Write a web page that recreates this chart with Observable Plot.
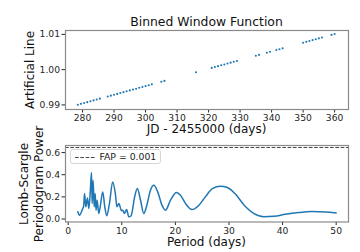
<!DOCTYPE html>
<html>
<head>
<meta charset="utf-8">
<script src="https://cdn.jsdelivr.net/npm/d3@7"></script>
<script src="https://cdn.jsdelivr.net/npm/@observablehq/plot@0.6"></script>
<style>
  html, body { margin: 0; padding: 0; background: #fff; }
  #wrap { position: relative; width: 360px; height: 252px; overflow: hidden; font-family: "DejaVu Sans", sans-serif; color: #111; }
  #wrap > svg { position: absolute; left: 0; }
  .lbl { position: absolute; font-size: 12px; line-height: 14px; white-space: nowrap; }
  .rot { position: absolute; font-size: 12px; line-height: 14.5px; white-space: nowrap; text-align: center; transform: translate(-50%, -50%) rotate(-90deg); }
  #legend { position: absolute; left: 69.5px; top: 148.5px; width: 91px; height: 15px; border: 1px solid #d6d6d6; border-radius: 3px; background: rgba(255,255,255,0.85); box-sizing: border-box; }
  #legend svg { position: absolute; left: 4px; top: 6px; }
  #legend span { position: absolute; left: 29px; top: 1px; font-size: 9.3px; line-height: 11px; color: #222; }
</style>
</head>
<body>
<div id="wrap"></div>
<script>
// ---- Top panel: binned window function (artificial line) ----
const jd = [278.5, 279.5, 280.5, 281.5, 282.5, 283.5, 284.5, 285.5,
  288, 289, 290, 291, 292, 293, 294, 295, 296, 297, 298, 299, 300, 301, 302,
  305, 306,
  316,
  321, 322, 323, 324, 325, 326, 327, 328, 329,
  335, 336, 338.5, 339.5, 341.5, 342.5, 343.5,
  350, 351, 352, 353, 354, 355, 356,
  359, 360];
const artificial = [0.99005, 0.99030, 0.99054, 0.99079, 0.99103, 0.99128, 0.99153, 0.99177,
  0.99239, 0.99263, 0.99288, 0.99312, 0.99337, 0.99362, 0.99386, 0.99411, 0.99435, 0.99460, 0.99485, 0.99509, 0.99534, 0.99558, 0.99583,
  0.99657, 0.99681,
  0.99927,
  1.00050, 1.00075, 1.00099, 1.00124, 1.00148, 1.00173, 1.00198, 1.00222, 1.00247,
  1.00395, 1.00419, 1.00481, 1.00506, 1.00555, 1.00579, 1.00604,
  1.00764, 1.00788, 1.00813, 1.00838, 1.00862, 1.00887, 1.00911,
  1.00985, 1.01010];
const topXTicks = [280, 290, 300, 310, 320, 330, 340, 350, 360];
const topYTicks = [0.99, 1.00, 1.01];

// ---- Bottom panel: Lomb-Scargle periodogram ----
const period = [1.8, 2.1, 2.6, 2.9, 3.05, 3.3, 3.6, 3.85, 4.1, 4.35, 4.47, 4.66, 4.85, 5.03, 5.2, 5.4, 5.7, 5.97,
  6.45, 6.83, 7.2, 7.7, 8.3, 8.8, 9.1, 9.45, 9.95, 10.2, 10.5, 10.9, 11.3, 11.75, 12.4, 12.9, 13.5, 14.1, 14.6,
  15.35, 16.0, 16.7, 17.5, 18.15, 19.1, 20.2, 20.95, 21.9, 23.1, 24.4, 25.6, 26.9, 28.4, 29.7, 31.1, 33.1,
  34.6, 36.5, 38.4, 40.5, 43.0, 45.5, 48.0, 50.0];
const power = [0.065, 0.035, 0.08, 0.12, 0.23, 0.11, 0.19, 0.095, 0.23, 0.42, 0.14, 0.35, 0.11, 0.23, 0.08, 0.17, 0.05, 0.11,
  0.245, 0.11, 0.03, 0.14, 0.335, 0.23, 0.11, 0.14, 0.075, 0.08, 0.05, 0.085, 0.02, 0.03, 0.2, 0.275, 0.17, 0.05, 0.11,
  0.26, 0.305, 0.245, 0.125, 0.08, 0.17, 0.24, 0.215, 0.14, 0.085, 0.125, 0.2, 0.275, 0.296, 0.284, 0.23, 0.11,
  0.05, 0.02, 0.024, 0.042, 0.058, 0.067, 0.063, 0.055];
const fap = [0.646];
const botXTicks = [0, 10, 20, 30, 40, 50];
const botYTicks = [0.0, 0.2, 0.4, 0.6];

const blue = "#1f77b4";
const axisStyle = { fontFamily: "DejaVu Sans", fontSize: "9.2px", color: "#262626", background: "transparent", overflow: "visible" };

const topData = jd.map((x, i) => ({ x, y: artificial[i] }));
const topChart = Plot.plot({
  width: 360, height: 130,
  marginLeft: 65, marginRight: 12, marginTop: 30, marginBottom: 21,
  style: axisStyle,
  x: { domain: [274.6, 364.4], ticks: topXTicks, tickFormat: d3.format("d"), tickSize: 3.5, tickPadding: 1.5, label: null },
  y: { domain: [0.9887, 1.0111], ticks: topYTicks, tickFormat: d3.format(".2f"), tickSize: 3.5, tickPadding: 2, label: null },
  marks: [
    Plot.dot(topData, { x: "x", y: "y", r: 1.05, fill: blue, stroke: null }),
    Plot.frame({ stroke: "#8a8a8a", strokeWidth: 1.2 }),
  ]
});
topChart.style.top = "0px";

const botData = period.map((p, i) => ({ p, v: power[i] }));
const botChart = Plot.plot({
  width: 360, height: 122,
  marginLeft: 65, marginRight: 12, marginTop: 15, marginBottom: 30.5,
  style: axisStyle,
  x: { domain: [-0.5, 52.3], ticks: botXTicks, tickFormat: d3.format("d"), tickSize: 3.5, tickPadding: 1.5, label: null },
  y: { domain: [-0.027, 0.664], ticks: botYTicks, tickFormat: d3.format(".1f"), tickSize: 3.5, tickPadding: 2, label: null },
  marks: [
    Plot.line(botData, { x: "p", y: "v", stroke: blue, strokeWidth: 1.5, curve: "monotone-x" }),
    Plot.ruleY(fap, { stroke: "#333", strokeWidth: 0.9, strokeDasharray: "3.7,1.6" }),
    Plot.frame({ stroke: "#8a8a8a", strokeWidth: 1.2 }),
  ]
});
botChart.style.top = "130px";

const wrap = document.getElementById("wrap");
wrap.appendChild(topChart);
wrap.appendChild(botChart);

function addLabel(text, left, topPx, cls) {
  const d = document.createElement("div");
  d.className = cls;
  d.innerHTML = text;
  d.style.left = left + "px";
  d.style.top = topPx + "px";
  wrap.appendChild(d);
  return d;
}
// Title and x labels (centered on the frame center x = 206.5)
const t = addLabel("Binned Window Function", 0, 15, "lbl");
t.style.width = "413px"; t.style.textAlign = "center"; t.style.fontSize = "12.4px";
const xl1 = addLabel("JD - 2455000 (days)", 0, 121.6, "lbl");
xl1.style.width = "413px"; xl1.style.textAlign = "center";
const xl2 = addLabel("Period (days)", 0, 234.8, "lbl");
xl2.style.width = "413px"; xl2.style.textAlign = "center";
// Rotated y labels
addLabel("Artificial Line", 29.5, 70, "rot");
addLabel("Lomb-Scargle<br>Periodogram Power", 30.5, 184, "rot");

// Legend
const leg = document.createElement("div");
leg.id = "legend";
leg.innerHTML = '<svg width="22" height="3"><line x1="0" y1="1.5" x2="21" y2="1.5" stroke="#333" stroke-width="0.9" stroke-dasharray="3.7,1.6"/></svg><span>FAP = 0.001</span>';
wrap.appendChild(leg);
</script>
</body>
</html>
